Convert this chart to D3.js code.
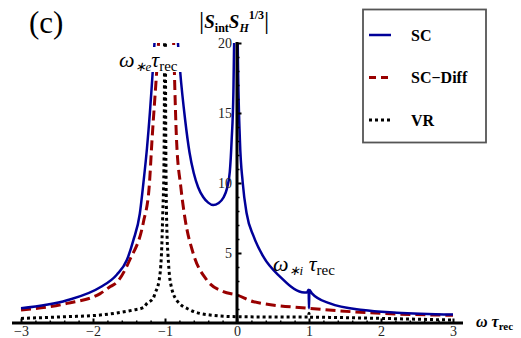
<!DOCTYPE html>
<html><head><meta charset="utf-8">
<script src="https://cdn.jsdelivr.net/npm/d3@7"></script>
<style>body{margin:0;background:#fff}svg{display:block}</style>
</head><body><svg id="c" width="521" height="338"></svg>
<script>
// ---- data ----
const xTicks = [-3, -2, -1, 0, 1, 2, 3];
const yTicks = [5, 10, 15, 20];
const seriesNames = ["SC", "SC\u2212Diff", "VR"];

const scT = [-3.0,-2.36,-1.9,-1.67,-1.53,-1.44,-1.35,-1.3,-1.25,-1.17,-1.146,-0.985,-0.82,-0.79,-0.72,-0.66,-0.6,-0.54,-0.47,-0.4,-0.33,-0.26,-0.19,-0.14,-0.1,-0.074,-0.05,-0.04,-0.017,0.01,0.04,0.08,0.135,0.23,0.37,0.6,0.9,0.97,0.995,1.0,1.005,1.04,1.29,1.75,2.22,3.0];
const scV = [1.05,1.62,2.55,3.45,4.5,5.9,7.8,10.0,12.5,18,20,40,20,18,14.5,12.2,10.7,9.7,9.0,8.6,8.42,8.55,8.95,9.6,10.8,13.1,16.5,20,40,20,13.1,10.0,7.8,6.2,4.7,3.3,2.2,2.17,2.38,1.05,2.35,2.12,1.4,0.93,0.74,0.6];

const diffT = [-3.0,-2.36,-1.9,-1.76,-1.67,-1.49,-1.3,-1.22,-1.18,-1.115,-1.09,-0.985,-0.88,-0.87,-0.84,-0.78,-0.72,-0.61,-0.42,-0.19,0.0,0.23,1.0,2.0,3.0];
const diffV = [0.93,1.4,2.1,2.6,2.9,4.5,7.2,9.7,13.1,18,20,40,20,18,13.1,9.7,7.4,5.0,3.07,2.24,2.0,1.52,1.05,0.69,0.55];

const vrT = [-3.0,-2.37,-1.9,-1.44,-1.3,-1.25,-1.16,-1.14,-1.08,-1.045,-1.03,-1.015,-1.006,-1.0,-0.994,-0.985,-0.97,-0.96,-0.93,-0.84,-0.65,-0.375,0.0,0.83,0.99,1.0,1.01,1.29,1.99,3.0];
const vrV = [0.33,0.45,0.57,0.93,1.1,1.4,1.8,2.1,3.1,5.45,8,11,20,40,20,10.2,6.0,5.0,3.07,1.64,0.93,0.57,0.45,0.42,0.42,0.7,0.42,0.4,0.33,0.21];

// ---- drawing ----
const SERIF = "'Liberation Serif', 'Times New Roman', Times, serif";
const svg = d3.select("#c");
const x = d3.scaleLinear().domain([-3, 3]).range([21, 453]);
const y = d3.scaleLinear().domain([0, 20]).range([323, 43]);

svg.append("defs").append("clipPath").attr("id", "clip")
  .append("rect").attr("x", 0).attr("y", y(20)).attr("width", 521).attr("height", 338 - y(20));

const line = d3.line().x(d => x(d[0])).y(d => y(d[1])).curve(d3.curveMonotoneX);
const zip = (a, b) => a.map((v, i) => [v, b[i]]);
const g = svg.append("g").attr("clip-path", "url(#clip)");

g.append("path").datum(zip(vrT, vrV)).attr("d", line)
  .attr("fill", "none").attr("stroke", "#000").attr("stroke-width", 3).attr("stroke-dasharray", "3,3");
g.append("path").datum(zip(diffT, diffV)).attr("d", line)
  .attr("fill", "none").attr("stroke", "#990000").attr("stroke-width", 3).attr("stroke-dasharray", "10,5");
g.append("path").datum(zip(scT, scV)).attr("d", line)
  .attr("fill", "none").attr("stroke", "#000099").attr("stroke-width", 2.5);

// label omega_*e tau_rec with white background
svg.append("rect").attr("x", 116).attr("y", 47).attr("width", 72).attr("height", 25).attr("fill", "#fff");
function omegaLabel(xp, yp, sub) {
  const t = svg.append("text").attr("x", xp).attr("y", yp).attr("font-size", 22);
  t.append("tspan").attr("font-style", "italic").text("\u03c9");
  t.append("tspan").attr("font-style", "italic").attr("font-size", 13).attr("dy", 4).text("\u2217" + sub);
  t.append("tspan").attr("font-style", "italic").attr("dy", -4).text(sub === "i" ? " \u03c4" : "\u03c4");
  t.append("tspan").attr("font-size", 15).attr("dy", 4).text("rec");
}
omegaLabel(119, 67, "e");
omegaLabel(273, 271, "i");

// axes
const fmt = d3.format("d");
const xMinor = d3.range(-3, 3.0001, 0.2).filter(v => Math.abs(v - Math.round(v)) > 1e-6);
svg.append("g").attr("transform", `translate(0,${y(0)})`)
  .call(d3.axisBottom(x).tickValues(xMinor).tickSizeInner(-2.5).tickSizeOuter(0).tickFormat(""))
  .call(a => a.select(".domain").remove())
  .call(a => a.selectAll("line").attr("stroke-width", 1.5));
svg.append("g").attr("transform", `translate(0,${y(0)})`)
  .call(d3.axisBottom(x).tickValues(xTicks).tickFormat(fmt).tickSizeInner(-4.5).tickSizeOuter(0).tickPadding(3))
  .call(a => a.select(".domain").remove())
  .call(a => a.selectAll("line").attr("stroke-width", 2))
  .call(a => a.selectAll("text").attr("font-size", 14).attr("fill", "#222"));
svg.append("line").attr("x1", 12).attr("x2", 463).attr("y1", y(0)).attr("y2", y(0)).attr("stroke", "#000").attr("stroke-width", 3);

const yMinor = d3.range(1, 20, 1).filter(v => v % 5 !== 0);
svg.append("g").attr("transform", `translate(${x(0)},0)`)
  .call(d3.axisLeft(y).tickValues(yMinor).tickSizeInner(-2.5).tickSizeOuter(0).tickFormat(""))
  .call(a => a.select(".domain").remove())
  .call(a => a.selectAll("line").attr("stroke-width", 1.5));
svg.append("g").attr("transform", `translate(${x(0)},0)`)
  .call(d3.axisLeft(y).tickValues(yTicks).tickFormat(fmt).tickSizeInner(-4.5).tickSizeOuter(0).tickPadding(5))
  .call(a => a.select(".domain").remove())
  .call(a => a.selectAll("line").attr("stroke-width", 2))
  .call(a => a.selectAll("text").attr("font-size", 14).attr("fill", "#222"));
svg.append("line").attr("x1", x(0)).attr("x2", x(0)).attr("y1", y(20) - 1).attr("y2", y(0)).attr("stroke", "#000").attr("stroke-width", 3);

// titles
svg.append("text").attr("x", 29).attr("y", 33).attr("font-size", 31).text("(c)");

const yt = svg.append("text").attr("x", 199).attr("y", 28).attr("font-size", 19).attr("font-weight", "bold");
yt.append("tspan").attr("font-weight", "normal").attr("font-size", 26).attr("dy", 1).text("|");
yt.append("tspan").attr("font-style", "italic").attr("dy", -1).text("S");
yt.append("tspan").attr("font-size", 12).attr("dy", 4).text("int");
yt.append("tspan").attr("font-style", "italic").attr("dy", -4).text("S");
yt.append("tspan").attr("font-style", "italic").attr("font-size", 12).attr("dy", 4).text("H");
yt.append("tspan").attr("font-size", 12).attr("dy", -13).text("1/3");
yt.append("tspan").attr("font-weight", "normal").attr("font-size", 26).attr("dy", 10).text("|");

const xt = svg.append("text").attr("x", 476).attr("y", 327).attr("font-size", 16).attr("font-weight", "bold");
xt.append("tspan").attr("font-style", "italic").text("\u03c9 \u03c4");
xt.append("tspan").attr("font-size", 11).attr("dy", 3).text("rec");

// legend
const lg = svg.append("g");
lg.append("rect").attr("x", 363).attr("y", 9.5).attr("width", 123).attr("height", 133)
  .attr("fill", "#fff").attr("stroke", "#555").attr("stroke-width", 1.8);
const styles = [
  {c: "#000099", d: null, w: 2.5},
  {c: "#990000", d: "7,5", w: 3},
  {c: "#000", d: "3,3", w: 3}
];
const ly = d3.scalePoint().domain(seriesNames).range([35, 120]);
seriesNames.forEach((n, i) => {
  const s = styles[i];
  const l = lg.append("line").attr("x1", 369).attr("x2", 391).attr("y1", ly(n)).attr("y2", ly(n))
    .attr("stroke", s.c).attr("stroke-width", s.w);
  if (s.d) l.attr("stroke-dasharray", s.d);
  lg.append("text").attr("x", 411).attr("y", ly(n) + 5.5).attr("font-size", 16).attr("font-weight", "bold").text(n);
});

svg.selectAll("text").style("font-family", SERIF);
</script></body></html>
